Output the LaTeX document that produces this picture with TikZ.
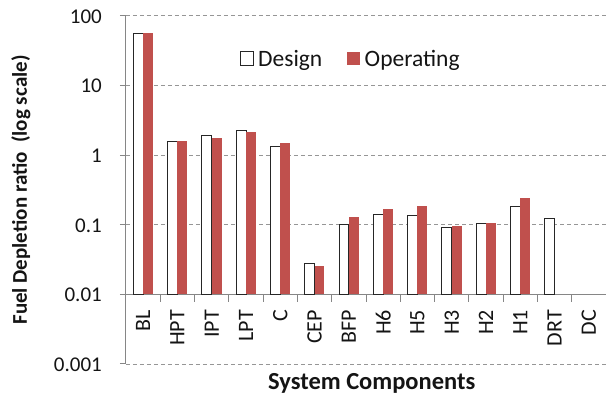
\documentclass[tikz,border=0pt]{standalone}
\usepackage{fontspec}
\setmainfont{Carlito}
\usetikzlibrary{calc}
\definecolor{oprred}{RGB}{192,80,77}
\definecolor{axisgray}{RGB}{134,134,134}
\definecolor{gridgray}{RGB}{150,150,150}
\definecolor{txt}{RGB}{20,20,20}

\begin{document}
\begin{tikzpicture}[x=34.29pt, y=69.66pt,
                font=\fontsize{21}{25}\selectfont, text=txt,
                grid line/.style={gridgray, line width=0.9pt, dash pattern=on 4pt off 3pt},
                axis line/.style={axisgray, line width=1pt},
                design bar/.style={fill=white, draw=black!85, line width=0.9pt},
                oper bar/.style={fill=oprred, draw=none},
                cat label/.style={rotate=90, anchor=east, inner sep=0pt, xshift=-15.5pt,
                    font=\fontsize{22}{26}\selectfont},
                tick label/.style={anchor=base east, inner sep=0pt, xshift=-24pt, yshift=-7.5pt},
                legend text/.style={anchor=base west, inner sep=0pt, font=\fontsize{23.5}{28}\selectfont},
                axis title/.style={inner sep=0pt, font=\fontsize{21}{25}\selectfont\bfseries}]

            \useasboundingbox (-126pt, -32pt) rectangle (480pt, 364pt);

            % grid and axes
            \foreach \k in {0, 2, 3, 4, 5}
                \draw[grid line] (0, \k) -- (14, \k);
            \draw[axis line] (0, 1) -- (14, 1);
            \draw[axis line] (0, 0) -- (0, 5);
            \foreach \k/\lab in {0/0.001, 1/0.01, 2/0.1, 3/1, 4/10, 5/100} {
                \draw[axis line] (-6pt, \k) -- (0, \k);
                \node[tick label] (y\k) at (0, \k) {\lab};
            }
            \foreach \i in {1, ..., 14}
                \draw[axis line] (\i, 1) -- ($(\i, 1) + (0, -8pt)$);

            % bars: index / name / design / operating
            \foreach \i/\cname/\dval/\oval in {1/BL/55/56, 2/HPT/1.58/1.6, 3/IPT/1.94/1.74,
                    4/LPT/2.26/2.12, 5/C/1.31/1.47, 6/CEP/0.028/0.0255, 7/BFP/0.099/0.127,
                    8/H6/0.138/0.166, 9/H5/0.132/0.183, 10/H3/0.092/0.097, 11/H2/0.105/0.106,
                    12/H1/0.181/0.239, 13/DRT/0.123/0, 14/DC/0/0} {
                \ifdim \dval pt > 0pt
                    \pgfmathsetmacro{\dh}{log10(\dval) + 3}
                    \draw[design bar] (\i - 0.787, 1) rectangle (\i - 0.5, \dh);
                \fi
                \ifdim \oval pt > 0pt
                    \pgfmathsetmacro{\oh}{log10(\oval) + 3}
                    \fill[oper bar] (\i - 0.5, 1) rectangle (\i - 0.213, \oh);
                \fi
                \node[cat label] (c\i) at (\i - 0.5, 1) {\cname};
            }

            % legend
            \draw[design bar] (114pt, 299pt) rectangle (127.3pt, 312.3pt);
            \node[legend text] (legD) at (132pt, 297.3pt) {Design};
            \fill[oper bar] (220.7pt, 299pt) rectangle (234pt, 312.3pt);
            \node[legend text] (legO) at (238.5pt, 297.3pt) {Operating};

            % axis titles
            \node[axis title, anchor=base, rotate=90] (ytitle)
                at (-99pt, 174pt) {Fuel Depletion ratio\ \ (log scale)};
            \node[axis title, anchor=base, font=\fontsize{24.5}{29}\selectfont\bfseries] (xtitle)
                at (245.7pt, -26pt) {System Components};
        \end{tikzpicture}
\end{document}
